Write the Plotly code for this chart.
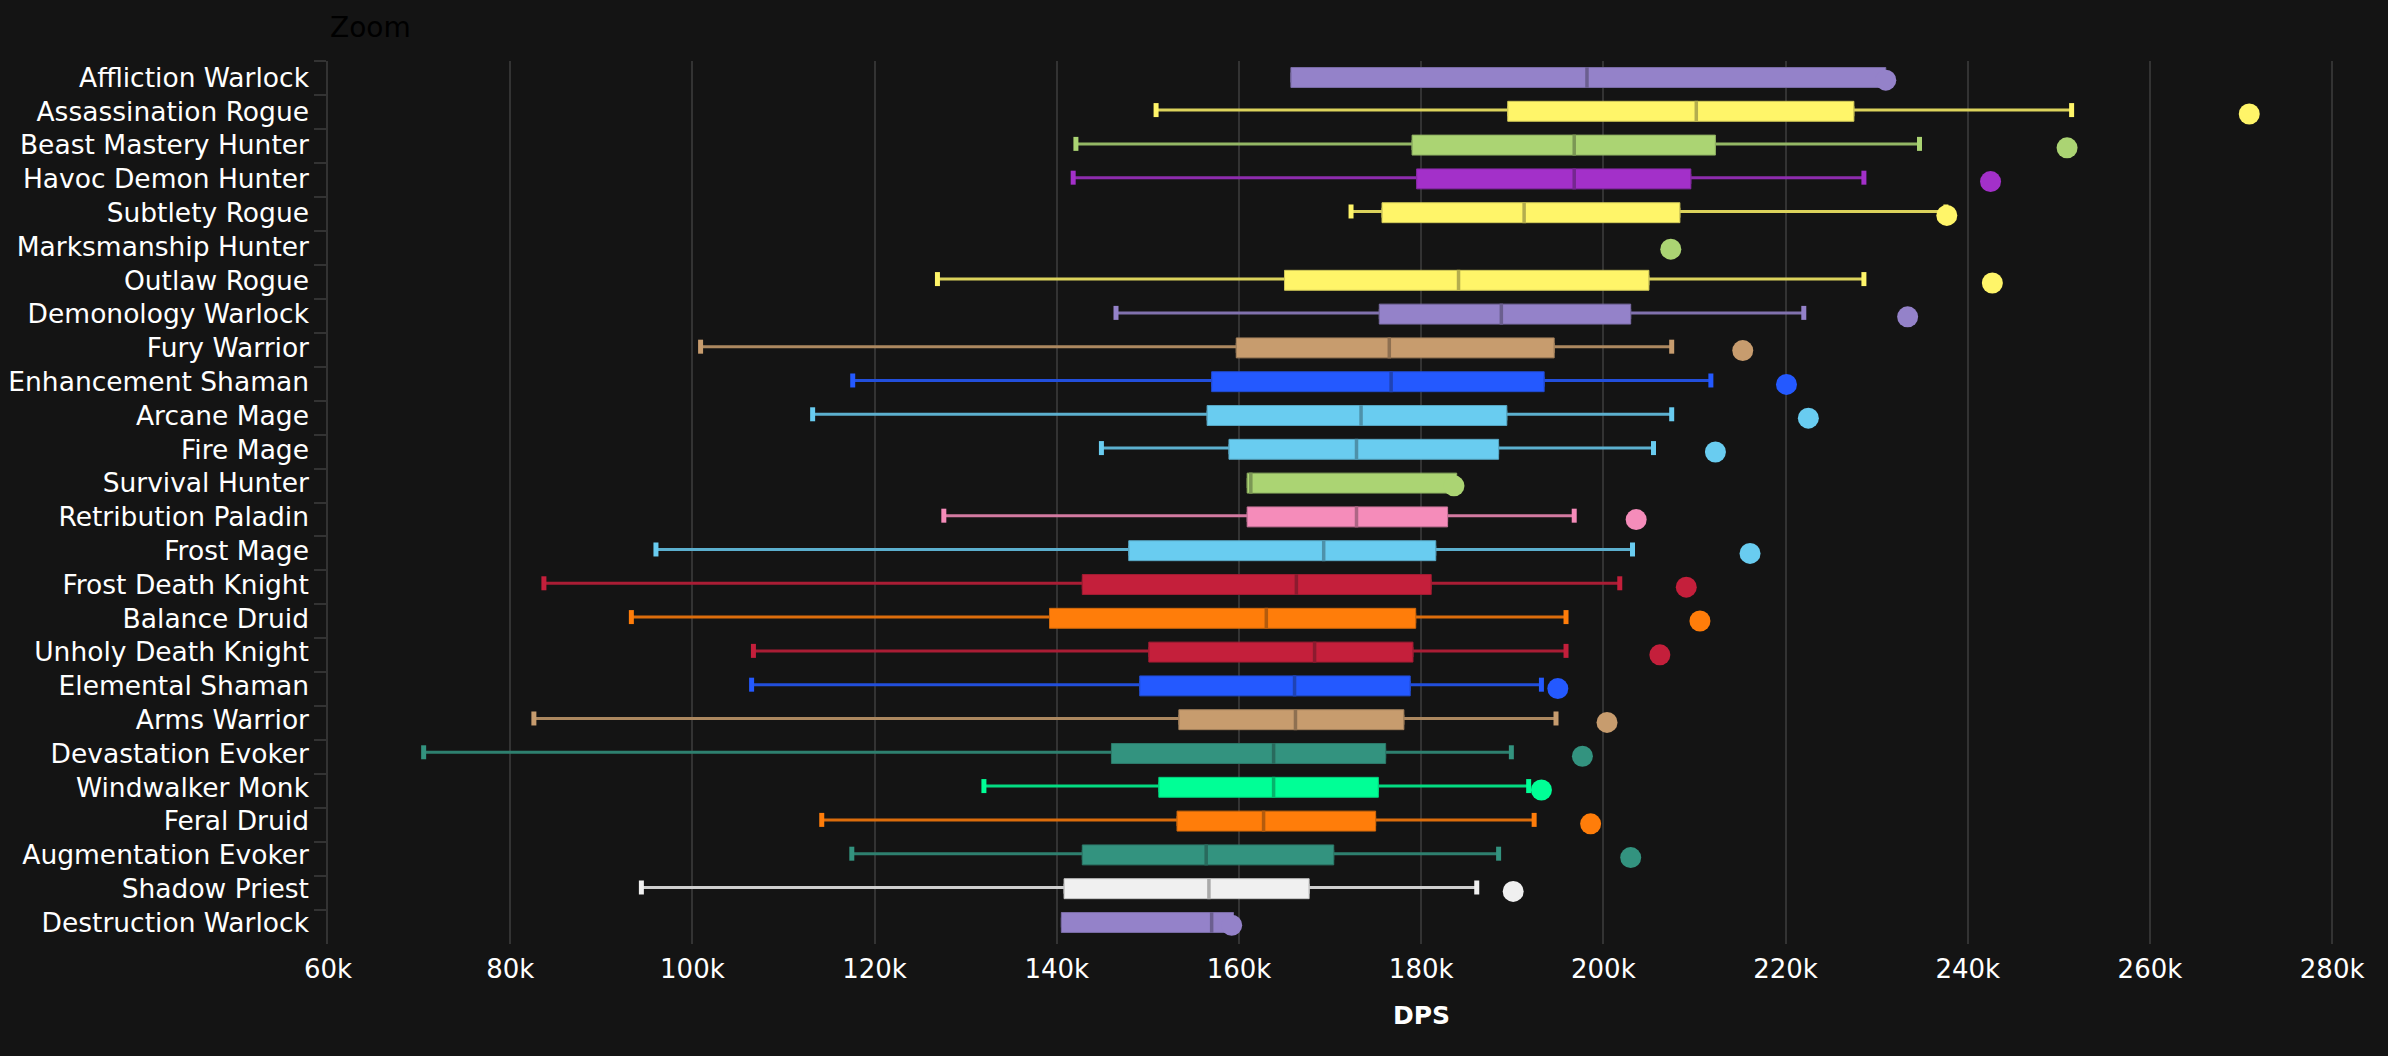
import plotly.graph_objects as go

# spec names, top to bottom
specs = ["Affliction Warlock", "Assassination Rogue", "Beast Mastery Hunter", "Havoc Demon Hunter",
         "Subtlety Rogue", "Marksmanship Hunter", "Outlaw Rogue", "Demonology Warlock", "Fury Warrior",
         "Enhancement Shaman", "Arcane Mage", "Fire Mage", "Survival Hunter", "Retribution Paladin",
         "Frost Mage", "Frost Death Knight", "Balance Druid", "Unholy Death Knight", "Elemental Shaman",
         "Arms Warrior", "Devastation Evoker", "Windwalker Monk", "Feral Druid", "Augmentation Evoker",
         "Shadow Priest", "Destruction Warlock"]

# values in thousands of DPS
low = [None, 150.9, 142.1, 141.8, 172.3, None, 126.9, 146.5, 100.9, 117.6, 113.2, 144.9, None, 127.6,
       96.0, 83.7, 93.3, 106.7, 106.5, 82.6, 70.5, 132.0, 114.2, 117.5, 94.4, None]
q1 = [165.7, 189.5, 179.0, 179.5, 175.7, None, 165.0, 175.4, 159.7, 157.0, 156.5, 158.9, 160.9, 160.9,
      147.9, 142.8, 139.2, 150.1, 149.1, 153.4, 146.0, 151.2, 153.2, 142.8, 140.8, 140.5]
median = [198.2, 210.2, 196.8, 196.8, 191.3, None, 184.1, 188.8, 176.5, 176.7, 173.4, 172.9, 161.3, 172.9,
          169.3, 166.3, 163.0, 168.3, 166.1, 166.2, 163.8, 163.8, 162.7, 156.4, 156.7, 157.0]
q3 = [231.0, 227.5, 212.3, 209.6, 208.4, None, 205.0, 203.0, 194.6, 193.5, 189.4, 188.5, 183.9, 182.9,
      181.6, 181.1, 179.4, 179.1, 178.8, 178.1, 176.1, 175.3, 175.0, 170.4, 167.7, 159.4]
high = [None, 251.4, 234.7, 228.6, 237.6, None, 228.6, 222.0, 207.5, 211.8, 207.5, 205.5, None, 196.8,
        203.2, 201.8, 195.9, 195.9, 193.2, 194.8, 189.9, 191.8, 192.4, 188.5, 186.1, None]
top = [231.0, 270.9, 250.9, 242.5, 237.7, 207.4, 242.7, 233.4, 215.3, 220.1, 222.5, 212.3, 183.6, 203.6,
       216.1, 209.1, 210.6, 206.2, 195.0, 200.4, 197.7, 193.2, 198.6, 203.0, 190.1, 159.2]

colors = ["#9482C9", "#FFF569", "#ABD473", "#A330C9", "#FFF569", "#ABD473", "#FFF569", "#9482C9", "#C79C6E",
          "#2459FF", "#69CCF0", "#69CCF0", "#ABD473", "#F58CBA", "#69CCF0", "#C41F3B", "#FF7D0A", "#C41F3B",
          "#2459FF", "#C79C6E", "#33937F", "#00FF96", "#FF7D0A", "#33937F", "#F0F0F0", "#9482C9"]

tick_vals = [60000, 80000, 100000, 120000, 140000, 160000, 180000, 200000, 220000, 240000, 260000, 280000]
tick_text = ["60k", "80k", "100k", "120k", "140k", "160k", "180k", "200k", "220k", "240k", "260k", "280k"]

BG = "#141414"
GRID = "#333333"


def darker(hex_color, keep):
    # blend a colour towards the background
    c = [int(hex_color[i:i + 2], 16) for i in (1, 3, 5)]
    b = [int(BG[i:i + 2], 16) for i in (1, 3, 5)]
    return "rgb(%d,%d,%d)" % tuple(round(a * keep + d * (1 - keep)) for a, d in zip(c, b))


fig = go.Figure()

# whiskers go first so the boxes cover them
for i, name in enumerate(specs):
    if low[i] is None:
        continue
    fig.add_trace(go.Scatter(
        x=[low[i] * 1000, high[i] * 1000], y=[name, name], mode="lines+markers", yaxis="y",
        line=dict(color=darker(colors[i], 0.85), width=3),
        marker=dict(symbol="line-ns", size=10, line=dict(color=colors[i], width=5)),
        hoverinfo="skip"
    ))

for i, name in enumerate(specs):
    if q1[i] is None:
        continue
    fig.add_trace(go.Box(
        y=[name], q1=[q1[i] * 1000], median=[median[i] * 1000], q3=[q3[i] * 1000],
        lowerfence=[q1[i] * 1000], upperfence=[q3[i] * 1000], orientation="h", yaxis="y2", width=0.59,
        fillcolor=colors[i], line=dict(color=darker(colors[i], 0.8), width=1), name=name
    ))

# median ticks, darker than the box
has_box = [i for i in range(len(specs)) if median[i] is not None]
fig.add_trace(go.Scatter(
    x=[median[i] * 1000 for i in has_box], y=[specs[i] for i in has_box], mode="markers", yaxis="y2",
    marker=dict(symbol="line-ns", size=15, line=dict(color=[darker(colors[i], 0.68) for i in has_box], width=3.5)),
    hoverinfo="skip"
))

# top parse of each spec
fig.add_trace(go.Scatter(
    x=[v * 1000 for v in top], y=specs, mode="markers", yaxis="y3",
    marker=dict(color=colors, size=21), cliponaxis=False, name="Top"
))

# axis line and boundary ticks sit on their own even grid, a little wider than the rows
fig.add_trace(go.Scatter(
    x=[v * 1000 for v in top], y=specs, mode="markers", yaxis="y4", marker=dict(opacity=0), hoverinfo="skip"
))

cat = dict(type="category", categoryorder="array", categoryarray=specs)
fig.update_layout(
    width=2388, height=1056, showlegend=False, paper_bgcolor=BG, plot_bgcolor=BG,
    margin=dict(l=328, r=0, t=61, b=112), boxmode="overlay", boxgap=0.41,
    font=dict(family="DejaVu Sans", size=26.5, color="#ffffff"),
    xaxis=dict(range=[60000, 286130], tickvals=tick_vals, ticktext=tick_text, showline=False, zeroline=False,
               gridcolor=GRID, gridwidth=2, ticks="outside", ticklen=2, tickcolor=BG,
               tickfont=dict(size=26, color="#ffffff")),
    yaxis=dict(visible=False, range=[25.672, -0.452], **cat),
    yaxis2=dict(overlaying="y", side="left", range=[25.636, -0.488], showgrid=False, zeroline=False, showline=False,
                ticks="", tickfont=dict(size=26.5, color="#ffffff"), ticklabelstandoff=18, **cat),
    yaxis3=dict(overlaying="y", visible=False, range=[25.556, -0.568], **cat),
    yaxis4=dict(overlaying="y", side="left", range=[25.5, -0.5], showgrid=False, zeroline=False, showline=True,
                linecolor=GRID, linewidth=2, ticks="outside", tickson="boundaries", ticklen=12, tickcolor=GRID,
                tickwidth=2, showticklabels=False, **cat),
    annotations=[
        dict(text="DPS", xref="paper", yref="paper", x=0.531, y=-0.0815, showarrow=False, yanchor="middle",
             font=dict(size=25, color="#ffffff", family="DejaVu Sans", weight="bold")),
        dict(text="Zoom", xref="paper", yref="paper", x=0, y=1.0385, showarrow=False, xanchor="left",
             yanchor="middle", font=dict(size=28, color="#000000")),
    ],
)

fig.write_html("out.html", config=dict(displayModeBar=False),
               post_script="document.body.style.margin='0';document.body.style.background='#141414';document.body.style.overflow='hidden';")
